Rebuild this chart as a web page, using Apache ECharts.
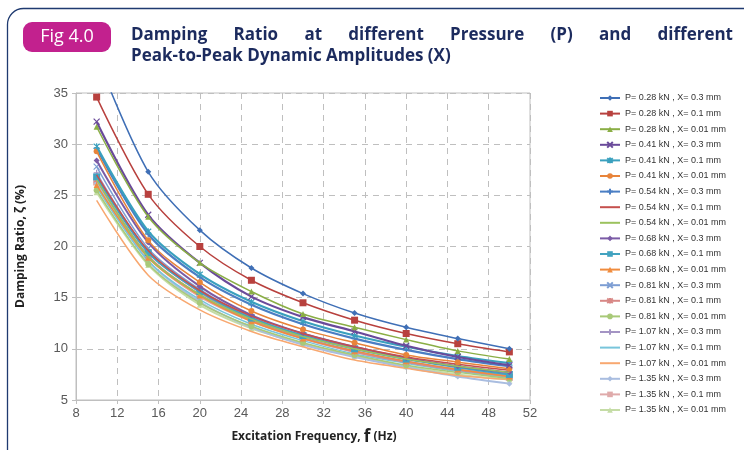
<!DOCTYPE html>
<html>
<head>
<meta charset="utf-8">
<script src="https://cdn.jsdelivr.net/npm/echarts@6/dist/echarts.min.js"></script>
<style>
  html, body { margin: 0; padding: 0; background: #fff; }
  #main { width: 744px; height: 450px; }
</style>
</head>
<body>
<div id="main"></div>
<script>
// excitation frequency (Hz)
var freqs = [10, 15, 20, 25, 30, 35, 40, 45, 50];

// damping ratio (%) per load case
var p028x03  = [38.6, 27.3, 21.6, 17.9, 15.4, 13.5, 12.1, 11.0, 10.0];
var p028x01  = [34.6, 25.1, 20.0, 16.7, 14.5, 12.8, 11.5, 10.5, 9.7];
var p028x001 = [31.7, 22.9, 18.4, 15.6, 13.4, 12.1, 10.9, 9.8, 9.0];
var p041x03  = [32.2, 23.1, 18.4, 15.1, 13.1, 11.7, 10.3, 9.2, 8.4];
var p041x01  = [29.8, 21.5, 17.3, 14.6, 12.7, 11.3, 10.2, 9.3, 8.6];
var p041x001 = [29.3, 20.6, 16.5, 13.7, 11.9, 10.6, 9.4, 8.7, 8.05];
var p054x03  = [29.6, 21.2, 17.0, 14.3, 12.4, 11.0, 9.9, 9.0, 8.3];
var p054x01  = [27.0, 19.6, 15.7, 13.2, 11.5, 10.2, 9.2, 8.5, 7.9];
var p054x001 = [26.5, 19.0, 15.3, 12.9, 11.2, 10.0, 9.0, 8.3, 7.7];
var p068x03  = [28.4, 20.4, 16.1, 13.3, 11.5, 10.2, 9.1, 8.3, 7.7];
var p068x01  = [26.8, 19.4, 15.6, 13.0, 11.3, 10.0, 9.0, 8.2, 7.5];
var p068x001 = [26.0, 18.9, 15.2, 12.7, 11.0, 9.8, 8.8, 8.0, 7.3];
var p081x03  = [27.8, 19.8, 15.8, 13.1, 11.3, 10.0, 9.0, 8.2, 7.5];
var p081x01  = [26.5, 19.1, 15.3, 12.8, 11.0, 9.7, 8.7, 7.9, 7.3];
var p081x001 = [25.5, 18.3, 14.5, 12.2, 10.6, 9.4, 8.4, 7.7, 7.1];
var p107x03  = [27.2, 19.5, 15.5, 12.9, 11.1, 9.8, 8.8, 8.0, 7.4];
var p107x01  = [25.8, 18.6, 14.8, 12.4, 10.8, 9.5, 8.6, 7.8, 7.2];
var p107x001 = [24.5, 17.2, 13.8, 11.7, 10.2, 8.9, 8.1, 7.4, 7.0];
var p135x03  = [26.2, 18.6, 14.6, 12.1, 10.4, 9.2, 8.2, 7.3, 6.6];
var p135x01  = [26.3, 19.0, 15.1, 12.7, 11.0, 9.7, 8.7, 7.9, 7.2];
var p135x001 = [25.3, 18.2, 14.3, 12.0, 10.5, 9.3, 8.3, 7.5, 7.0];

var names = [
  'P= 0.28 kN , X= 0.3 mm', 'P= 0.28 kN , X= 0.1 mm', 'P= 0.28 kN , X= 0.01 mm',
  'P= 0.41 kN , X= 0.3 mm', 'P= 0.41 kN , X= 0.1 mm', 'P= 0.41 kN , X= 0.01 mm',
  'P= 0.54 kN , X= 0.3 mm', 'P= 0.54 kN , X= 0.1 mm', 'P= 0.54 kN , X= 0.01 mm',
  'P= 0.68 kN , X= 0.3 mm', 'P= 0.68 kN , X= 0.1 mm', 'P= 0.68 kN , X= 0.01 mm',
  'P= 0.81 kN , X= 0.3 mm', 'P= 0.81 kN , X= 0.1 mm', 'P= 0.81 kN , X= 0.01 mm',
  'P= 1.07 kN , X= 0.3 mm', 'P= 1.07 kN , X= 0.1 mm', 'P= 1.07 kN , X= 0.01 mm',
  'P= 1.35 kN , X= 0.3 mm', 'P= 1.35 kN , X= 0.1 mm', 'P= 1.35 kN , X= 0.01 mm'
];
var values = [
  p028x03, p028x01, p028x001, p041x03, p041x01, p041x001, p054x03, p054x01, p054x001,
  p068x03, p068x01, p068x001, p081x03, p081x01, p081x001, p107x03, p107x01, p107x001,
  p135x03, p135x01, p135x001
];

// styling (excel-like palette and marker cycle)
var colors = [
  '#3F6FB6', '#B8413E', '#8AAE45', '#6A4A9A', '#3AA0BE', '#E8843A',
  '#4A7EC4', '#C5504D', '#9CC25E', '#7B5BA6', '#42A3C0', '#F08C3E',
  '#7D9ED3', '#D88886', '#A8C978', '#A494C4', '#78C5DB', '#F8A870',
  '#A9BDE0', '#DFAAAA', '#C5DCA6'
];
var X_MARK = 'path://M0,0L10,10M10,0L0,10';
var STAR_MARK = 'path://M1,1L9,9M9,1L1,9M5,0L5,10';
var PLUS_MARK = 'path://M5,0L5,10M0,5L10,5';
var markers = [
  'diamond', 'rect', 'triangle', X_MARK, STAR_MARK, 'circle', PLUS_MARK, 'none', 'none',
  'diamond', 'rect', 'triangle', X_MARK, STAR_MARK, 'circle', PLUS_MARK, 'none', 'none',
  'diamond', 'rect', 'triangle'
];
var widths = [1.5, 1.5, 1.5, 2.2, 2.2, 1.5, 2.2, 1.5, 1.5, 2, 2, 1.5, 1.5, 1.5, 1.5, 1.5, 1.5, 1.5, 2, 2, 2];

var series = names.map(function (name, k) {
  var m = markers[k];
  var isStroke = m.indexOf('path://') === 0;
  return {
    name: name,
    type: 'line',
    smooth: 0.3,
    symbol: m,
    symbolSize: m === 'rect' ? 7 : 6,
    data: freqs.map(function (f, i) { return [f, values[k][i]]; }),
    lineStyle: { color: colors[k], width: widths[k] },
    itemStyle: {
      color: colors[k],
      borderColor: colors[k],
      borderWidth: isStroke ? 1.2 : 0
    },
    emphasis: { disabled: true },
    z: 30 - k
  };
});

// legend entries: line-only series get no marker
var legendData = names.map(function (name, k) {
  if (markers[k] === 'none') {
    return { name: name, itemStyle: { opacity: 0 } };
  }
  return { name: name };
});

// justify the first title line across the header width
var titleWords = ['Damping', 'Ratio', 'at', 'different', 'Pressure', '(P)', 'and', 'different'];
var titleFont = 'bold 17px "Open Sans"';
var ctx = document.createElement('canvas').getContext('2d');
ctx.font = titleFont;
var wSum = 0;
titleWords.forEach(function (w) { wSum += ctx.measureText(w).width; });
var gap = (733 - 131 - wSum) / (titleWords.length - 1);
var titleEls = [];
var cx = 131;
titleWords.forEach(function (w) {
  titleEls.push({
    type: 'text', x: cx, y: 35,
    style: { text: w, font: titleFont, fill: '#1C2B5E', textVerticalAlign: 'middle' }
  });
  cx += ctx.measureText(w).width + gap;
});

var myChart = echarts.init(document.getElementById('main'));
var option = {
  backgroundColor: '#fff',
  animation: false,
  grid: {
    left: 76, right: 214, top: 93, bottom: 50,
    show: true, borderColor: '#BFBFBF', borderWidth: 1
  },
  legend: {
    orient: 'vertical',
    left: 594,
    top: 88,
    itemWidth: 20,
    itemHeight: 7,
    itemGap: 5.6,
    data: legendData,
    textStyle: { fontSize: 9, color: '#333', fontFamily: 'Liberation Sans', lineHeight: 10 }
  },
  xAxis: {
    type: 'value',
    min: 8, max: 52, interval: 4,
    axisLine: { show: true, lineStyle: { color: '#BFBFBF' } },
    axisTick: { show: true, length: 4, lineStyle: { color: '#BFBFBF' } },
    axisLabel: { color: '#595959', fontSize: 13, fontFamily: 'Liberation Sans', margin: 7 },
    splitLine: { show: true, lineStyle: { color: '#BFBFBF', type: [6, 5] } }
  },
  yAxis: {
    type: 'value',
    min: 5, max: 35, interval: 5,
    name: 'Damping Ratio, ζ (%)',
    nameLocation: 'middle',
    nameGap: 49,
    nameTextStyle: { fontSize: 12, fontWeight: 'bold', color: '#222', fontFamily: 'Open Sans' },
    axisLine: { show: true, lineStyle: { color: '#BFBFBF' } },
    axisTick: { show: true, length: 4, lineStyle: { color: '#BFBFBF' } },
    axisLabel: { color: '#595959', fontSize: 13, fontFamily: 'Liberation Sans', margin: 8 },
    splitLine: { show: true, lineStyle: { color: '#BFBFBF', type: [6, 5] } }
  },
  graphic: [
    {
      type: 'rect',
      shape: { x: 7.5, y: 8.5, width: 800, height: 500, r: 16 },
      style: { fill: 'none', stroke: '#1F3A70', lineWidth: 1.3 },
      silent: true
    },
    {
      type: 'rect',
      shape: { x: 23, y: 22, width: 88, height: 30, r: 9 },
      style: { fill: '#C2218E' }
    },
    {
      type: 'text', x: 67, y: 37,
      style: {
        text: 'Fig 4.0', font: '18px "Open Sans"', fill: '#fff',
        textAlign: 'center', textVerticalAlign: 'middle'
      }
    },
    {
      type: 'text', x: 131, y: 56,
      style: {
        text: 'Peak-to-Peak Dynamic Amplitudes (X)', font: titleFont, fill: '#1C2B5E',
        textVerticalAlign: 'middle'
      }
    },
    {
      type: 'text', x: 314, y: 437,
      style: {
        text: '{a|Excitation Frequency, }{b|f}{a| (Hz)}',
        textAlign: 'center', textVerticalAlign: 'middle',
        rich: {
          a: { fontSize: 12, fontWeight: 'bold', fill: '#222', fontFamily: 'Open Sans' },
          b: { fontSize: 17, fontWeight: 'bold', fill: '#222', fontFamily: 'Open Sans' }
        }
      }
    }
  ].concat(titleEls),
  series: series
};
myChart.setOption(option);
</script>
</body>
</html>
